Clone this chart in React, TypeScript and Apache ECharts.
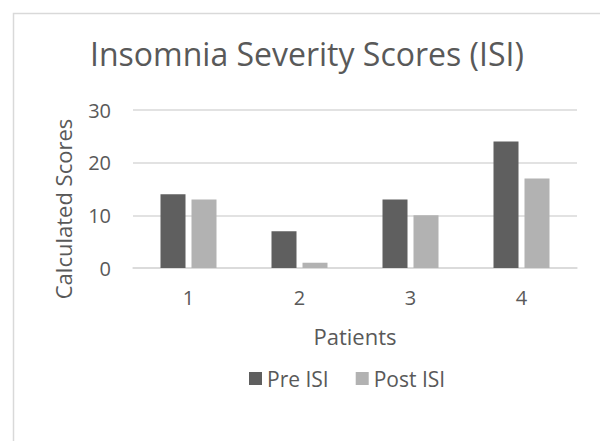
import React, { useEffect, useRef } from "react";
import * as echarts from "echarts";

const categories = ["1", "2", "3", "4"];
const preISI = [14, 7, 13, 24];
const postISI = [13, 1, 10, 17];
const seriesNames = ["Pre ISI", "Post ISI"];

export default function App() {
  const ref = useRef<HTMLDivElement>(null);
  useEffect(() => {
    const chart = echarts.init(ref.current!, undefined, { renderer: "svg" });
    const font = "'Open Sans', sans-serif";
    chart.setOption({
      animation: false,
      backgroundColor: "#ffffff",
      title: {
        text: "Insomnia Severity Scores (ISI)",
        left: 85,
        top: 32,
        textStyle: { fontFamily: font, fontSize: 32, fontWeight: "normal", color: "#595959" },
      },
      graphic: [
        {
          type: "rect",
          left: 11,
          top: 11,
          shape: { width: 640, height: 480 },
          style: { fill: "none", stroke: "#d9d9d9", lineWidth: 1.5 },
          silent: true,
          z: -1,
        },
        {
          type: "text",
          x: 63,
          y: 209,
          rotation: Math.PI / 2,
          style: {
            text: "Calculated Scores",
            fontFamily: font,
            fontSize: 22,
            fill: "#595959",
            align: "center",
            verticalAlign: "middle",
          },
        },
      ],
      legend: {
        left: 244,
        top: 363,
        itemWidth: 13,
        itemHeight: 13,
        itemGap: 27,
        icon: "rect",
        data: seriesNames,
        textStyle: { fontFamily: font, fontSize: 21, color: "#595959" },
      },
      grid: { left: 133, right: 23, top: 110, bottom: 173, containLabel: false },
      xAxis: {
        type: "category",
        data: categories,
        name: "Patients",
        nameLocation: "middle",
        nameGap: 57,
        nameTextStyle: { fontFamily: font, fontSize: 22, color: "#595959" },
        axisLine: { lineStyle: { color: "#d9d9d9", width: 1.5 } },
        axisTick: { show: false },
        axisLabel: { fontFamily: font, fontSize: 20, color: "#595959", margin: 19 },
      },
      yAxis: {
        type: "value",
        min: 0,
        max: 30,
        interval: 10,
        axisLine: { show: false },
        axisTick: { show: false },
        splitLine: { lineStyle: { color: "#d9d9d9", width: 1.5 } },
        axisLabel: { fontFamily: font, fontSize: 20, color: "#595959", margin: 22 },
      },
      series: [
        {
          name: seriesNames[0],
          type: "bar",
          data: preISI,
          barWidth: 25,
          barGap: "24%",
          itemStyle: { color: "#5f5f5f" },
        },
        {
          name: seriesNames[1],
          type: "bar",
          data: postISI,
          barWidth: 25,
          itemStyle: { color: "#b2b2b2" },
        },
      ],
    });
    return () => chart.dispose();
  }, []);
  return (
    <div
      ref={ref}
      style={{ position: "fixed", left: 0, top: 0, width: 600, height: 441 }}
    />
  );
}
